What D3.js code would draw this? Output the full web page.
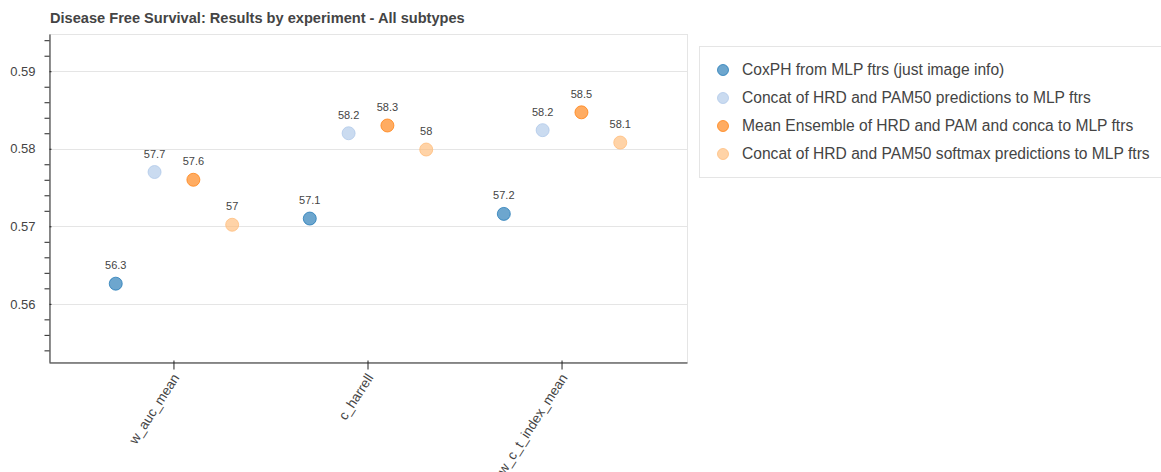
<!DOCTYPE html>
<html>
<head>
<meta charset="utf-8">
<script src="https://cdn.jsdelivr.net/npm/d3@7"></script>
<style>
  html, body { margin: 0; padding: 0; background: #fff; }
  svg { display: block; font-family: "Liberation Sans", Arial, Helvetica, sans-serif; }
</style>
</head>
<body>
<svg id="chart" width="1161" height="472"></svg>
<script>
// Metrics on the x axis
const metrics = ["w_auc_mean", "c_harrell", "w_c_t_index_mean"];

// Experiments (one coloured series each)
const experiments = [
  "CoxPH from MLP ftrs (just image info)",
  "Concat of HRD and PAM50 predictions to MLP ftrs",
  "Mean Ensemble of HRD and PAM and conca to MLP ftrs",
  "Concat of HRD and PAM50 softmax predictions to MLP ftrs"
];
const colors = ["#1f77b4", "#aec7e8", "#ff7f0e", "#ffbb78"];

// Scores per experiment, in metric order
const coxph       = [0.5626, 0.5710, 0.5716];
const concatPred  = [0.5770, 0.5820, 0.5824];
const meanEns     = [0.5760, 0.5830, 0.5847];
const concatSoft  = [0.5702, 0.5799, 0.5808];
const seriesValues = [coxph, concatPred, meanEns, concatSoft];

// Dodge offsets within each metric group (in category units)
const dodge = [-0.3, -0.1, 0.1, 0.3];

// Axis ticks
const yMajorTicks = [0.56, 0.57, 0.58, 0.59];
const yTickLabels = ["0.56", "0.57", "0.58", "0.59"];
const yMinorStep = 0.002;
const yDomain = [0.5525, 0.5948];

const title = "Disease Free Survival: Results by experiment - All subtypes";

const svg = d3.select("#chart");
const frame = { left: 49, right: 687, top: 34, bottom: 362 };

const x = d3.scaleBand()
  .domain(metrics)
  .range([frame.left, frame.right])
  .paddingInner(0)
  .paddingOuter(0.144);
const step = x.step();

const y = d3.scaleLinear().domain(yDomain).range([frame.bottom, frame.top]);

// Title
svg.append("text")
  .attr("x", frame.left + 1)
  .attr("y", 23)
  .attr("font-size", 14.6)
  .attr("font-weight", "bold")
  .attr("fill", "#444")
  .text(title);

// Plot outline
svg.append("rect")
  .attr("x", frame.left + 0.5)
  .attr("y", frame.top + 0.5)
  .attr("width", frame.right - frame.left)
  .attr("height", frame.bottom - frame.top)
  .attr("fill", "none")
  .attr("stroke", "#e5e5e5");

// Horizontal grid lines
svg.append("g")
  .selectAll("line")
  .data(yMajorTicks)
  .join("line")
  .attr("x1", frame.left)
  .attr("x2", frame.right)
  .attr("y1", d => Math.round(y(d)) + 0.5)
  .attr("y2", d => Math.round(y(d)) + 0.5)
  .attr("stroke", "#e5e5e5");

// Y axis
const yAxisG = svg.append("g").attr("transform", `translate(${frame.left + 0.5},0)`);
const minorTicks = d3.range(Math.ceil(yDomain[0] / yMinorStep) * yMinorStep, yDomain[1], yMinorStep)
  .filter(v => !yMajorTicks.some(m => Math.abs(m - v) < 1e-6));
const yMinorAxis = d3.axisLeft(y).tickValues(minorTicks).tickSize(5).tickFormat("");
yAxisG.append("g").call(yMinorAxis).call(g => g.select(".domain").remove());
const yMajor = yAxisG.append("g").call(
  d3.axisLeft(y)
    .tickValues(yMajorTicks)
    .tickSizeInner(8)
    .tickSizeOuter(0)
    .tickPadding(6)
    .tickFormat((d, i) => yTickLabels[i])
);
yMajor.selectAll(".tick line").attr("x2", 2);
yAxisG.selectAll("text").attr("font-size", 13).attr("fill", "#444");
yAxisG.selectAll(".tick line").attr("stroke", "#222");
yAxisG.selectAll(".domain").attr("stroke", "#222");
yAxisG.attr("font-family", null);

// X axis
const xAxisG = svg.append("g").attr("transform", `translate(0,${frame.bottom + 0.5})`);
xAxisG.call(d3.axisBottom(x).tickSizeInner(7).tickSizeOuter(0).tickFormat(""));
xAxisG.selectAll(".tick line").attr("y1", -2).attr("stroke", "#222");
xAxisG.select(".domain").attr("stroke", "#222");

svg.append("g")
  .selectAll("text")
  .data(metrics)
  .join("text")
  .attr("transform", d => `translate(${x(d) + x.bandwidth() / 2 + 2},${frame.bottom + 13}) rotate(-57)`)
  .attr("text-anchor", "end")
  .attr("dy", "0.35em")
  .attr("font-size", 13.5)
  .attr("fill", "#444")
  .text(d => d);

// Points and value labels
const points = [];
seriesValues.forEach((vals, si) => {
  vals.forEach((v, mi) => {
    points.push({ series: si, metric: metrics[mi], value: v });
  });
});
const px = d => x(d.metric) + x.bandwidth() / 2 + dodge[d.series] * step;

const marks = svg.append("g");
marks.selectAll("circle")
  .data(points)
  .join("circle")
  .attr("cx", px)
  .attr("cy", d => y(d.value))
  .attr("r", 6.5)
  .attr("fill", d => colors[d.series])
  .attr("fill-opacity", 0.65)
  .attr("stroke", d => colors[d.series])
  .attr("stroke-opacity", 0.75)
  .attr("stroke-width", 1);

marks.selectAll("text")
  .data(points)
  .join("text")
  .attr("x", px)
  .attr("y", d => y(d.value) - 14.5)
  .attr("text-anchor", "middle")
  .attr("font-size", 11)
  .attr("fill", "#444")
  .text(d => String(Math.round(d.value * 1000) / 10));

// Legend
const legend = svg.append("g");
legend.append("rect")
  .attr("x", 699.5)
  .attr("y", 46.5)
  .attr("width", 470)
  .attr("height", 131)
  .attr("fill", "#fff")
  .attr("stroke", "#e5e5e5");
const items = legend.selectAll("g.item")
  .data(experiments)
  .join("g")
  .attr("class", "item")
  .attr("transform", (d, i) => `translate(0,${70 + i * 28})`);
items.append("circle")
  .attr("cx", 723)
  .attr("cy", 0)
  .attr("r", 5.5)
  .attr("fill", (d, i) => colors[i])
  .attr("fill-opacity", 0.65)
  .attr("stroke", (d, i) => colors[i])
  .attr("stroke-opacity", 0.75);
items.append("text")
  .attr("x", 742)
  .attr("y", 0)
  .attr("dy", "0.35em")
  .attr("font-size", 15.6)
  .attr("fill", "#444")
  .text(d => d);
</script>
</body>
</html>
